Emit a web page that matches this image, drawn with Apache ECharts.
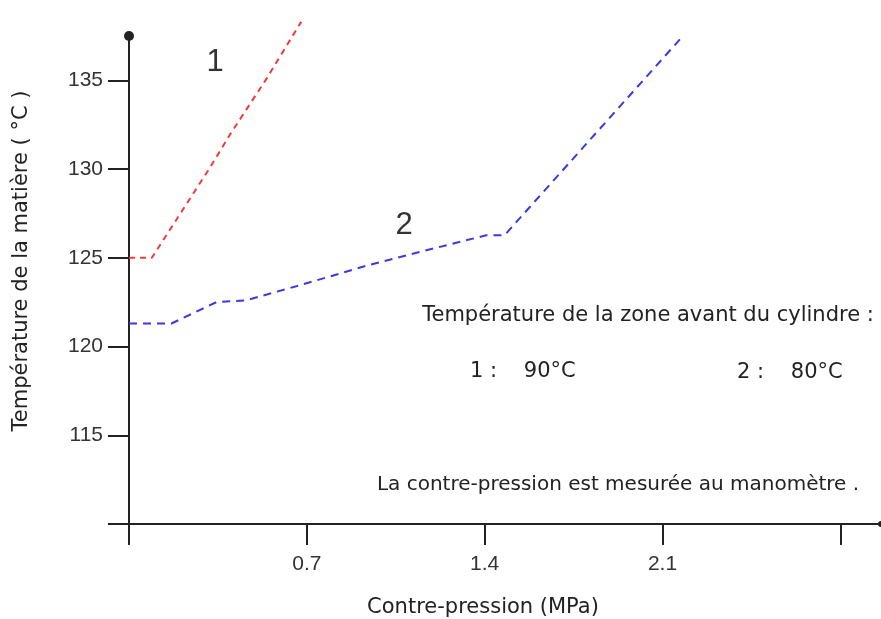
<!DOCTYPE html>
<html>
<head>
<meta charset="utf-8">
<script src="https://cdn.jsdelivr.net/npm/echarts@6/dist/echarts.min.js"></script>
<style>html,body{margin:0;padding:0;background:#fff}#c{width:881px;height:619px}</style>
</head>
<body>
<div id="c"></div>
<script>
// Data
const pressure1 = [0, 0.09, 0.315, 0.40, 0.537, 0.678];
const temp1 = [125, 125, 130, 132, 135, 138.3];
const pressure2 = [0, 0.167, 0.344, 0.46, 0.671, 0.934, 1.144, 1.406, 1.478, 2.179];
const temp2 = [121.3, 121.3, 122.5, 122.6, 123.45, 124.55, 125.33, 126.27, 126.27, 137.48];
const xTicks = [0, 0.7, 1.4, 2.1, 2.8];
const xLabels = [0.7, 1.4, 2.1];
const yTicks = [110, 115, 120, 125, 130, 135];
const yLabels = [115, 120, 125, 130, 135];

const FONT = 'DejaVu Sans';
const NUMFONT = 'Liberation Sans';
const chart = echarts.init(document.getElementById('c'), null, {renderer: 'canvas'});
chart.setOption({
  backgroundColor: '#ffffff',
  animation: false,
  grid: {left: 129, right: 0, top: 36, bottom: 95},
  xAxis: {
    type: 'value', min: 0, max: 2.96,
    axisLine: {show: true, onZero: false, lineStyle: {color: '#222', width: 2}, symbol: ['none', 'circle'], symbolSize: [6, 6]},
    axisTick: {show: true, inside: false, length: 21, customValues: xTicks, lineStyle: {color: '#222', width: 2}},
    axisLabel: {customValues: xLabels, margin: 30, color: '#333', fontFamily: NUMFONT, fontSize: 21,
      formatter: v => (+v).toFixed(1)},
    splitLine: {show: false}
  },
  yAxis: {
    type: 'value', min: 110, max: 137.5,
    axisLine: {show: true, onZero: false, lineStyle: {color: '#222', width: 2}, symbol: ['none', 'circle'], symbolSize: [10, 10]},
    axisTick: {show: true, inside: false, length: 21, customValues: yTicks, lineStyle: {color: '#222', width: 2}},
    axisLabel: {customValues: yLabels, margin: 26, color: '#333', fontFamily: NUMFONT, fontSize: 21},
    splitLine: {show: false}
  },
  series: [
    {type: 'line', data: pressure1.map((p, i) => [p, temp1[i]]), symbol: 'none', clip: false,
     lineStyle: {color: '#f03a3a', width: 2, type: [6, 5]}},
    {type: 'line', data: pressure2.map((p, i) => [p, temp2[i]]), symbol: 'none', clip: false,
     lineStyle: {color: '#3a3ae0', width: 2, type: [8, 6]}}
  ],
  graphic: [
    {type: 'text', x: 22, y: 261, rotation: Math.PI / 2,
     style: {text: 'Température de la matière ( °C )', fill: '#222', font: '21px ' + FONT, align: 'center', verticalAlign: 'middle'}},
    {type: 'text', x: 483, y: 608,
     style: {text: 'Contre-pression (MPa)', fill: '#222', font: '21px ' + FONT, align: 'center', verticalAlign: 'middle'}},
    {type: 'text', x: 215, y: 62,
     style: {text: '1', fill: '#333', font: '31px ' + NUMFONT, align: 'center', verticalAlign: 'middle'}},
    {type: 'text', x: 404, y: 225,
     style: {text: '2', fill: '#333', font: '31px ' + NUMFONT, align: 'center', verticalAlign: 'middle'}},
    {type: 'text', x: 648, y: 316,
     style: {text: 'Température de la zone avant du cylindre :', fill: '#222', font: '21px ' + FONT, align: 'center', verticalAlign: 'middle'}},
    {type: 'text', x: 470, y: 372,
     style: {text: '1 :    90°C', fill: '#222', font: '21px ' + FONT, align: 'left', verticalAlign: 'middle'}},
    {type: 'text', x: 737, y: 373,
     style: {text: '2 :    80°C', fill: '#222', font: '21px ' + FONT, align: 'left', verticalAlign: 'middle'}},
    {type: 'text', x: 618, y: 485,
     style: {text: 'La contre-pression est mesurée au manomètre .', fill: '#222', font: '20px ' + FONT, align: 'center', verticalAlign: 'middle'}}
  ]
});
</script>
</body>
</html>
